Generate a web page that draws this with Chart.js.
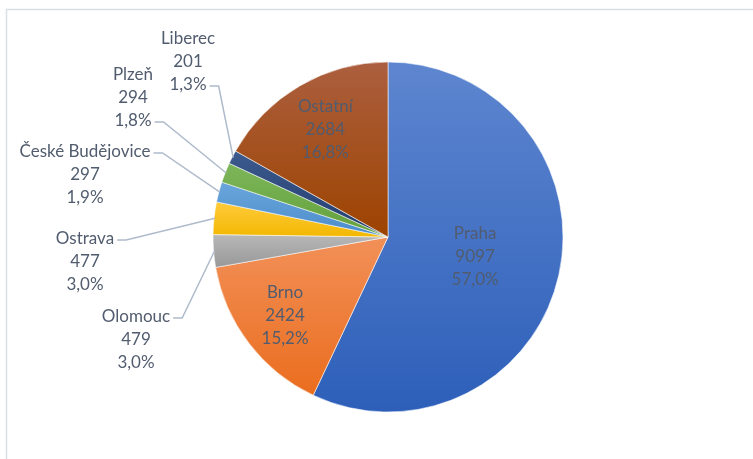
<!DOCTYPE html>
<html>
<head>
<meta charset="utf-8">
<script src="https://cdn.jsdelivr.net/npm/chart.js@4/dist/chart.umd.min.js"></script>
<style>
  html, body { margin: 0; padding: 0; background: #fff; }
  #wrap { width: 753px; height: 459px; position: relative; }
</style>
</head>
<body>
<div id="wrap"><canvas id="cities-chart"></canvas></div>
<script>
// city counts, clockwise from 12 o'clock
var cities = ["Praha", "Brno", "Olomouc", "Ostrava", "České Budějovice", "Plzeň", "Liberec", "Ostatní"];
var counts = [9097, 2424, 479, 477, 297, 294, 201, 2684];

// gradient stops per slice (top -> bottom)
var topColors = ["#5E86D0", "#F29058", "#B8B8B8", "#FFCB3C", "#6AA6DC", "#7DB65A", "#3D5A8E", "#AC5F3F"];
var bottomColors = ["#2D5FB9", "#EA6D1E", "#979797", "#F2B700", "#4A8BCB", "#62A03A", "#223D6E", "#9D4300"];

// where each label goes: inside at a fraction of the radius, or outside with a leader line
var labelSpots = [
    { inside: 0.51 },
    { inside: 0.74 },
    { x: 136, y: 340, attach: 0 },
    { x: 85, y: 262, attach: 0 },
    { x: 85, y: 175, attach: 0 },
    { x: 133, y: 98, attach: 2 },
    { x: 188, y: 62, attach: 2 },
    { inside: 0.71 }
];

var total = counts.reduce((a, b) => a + b, 0);
var pct = n => (n / total * 100).toFixed(1).replace(".", ",") + "%";
var labelFont = "17px Lato, 'Open Sans', sans-serif";
var labelColor = "#515C6E";
var lineHeight = 23;

// vertical gradient spanning the bounding box of one slice
var sliceFill = function (context) {
    var chart = context.chart;
    var area = chart.chartArea;
    if (!area) return topColors[context.dataIndex];
    var i = context.dataIndex;
    var cy = (area.top + area.bottom) / 2;
    var r = 175;
    var before = counts.slice(0, i).reduce((a, b) => a + b, 0);
    var a0 = -Math.PI / 2 + before / total * Math.PI * 2;
    var a1 = a0 + counts[i] / total * Math.PI * 2;
    var ys = [cy, cy + r * Math.sin(a0), cy + r * Math.sin(a1)];
    for (var k = -2; k <= 4; k++) {
        var a = k * Math.PI / 2 + Math.PI / 2;
        if (a > a0 && a < a1) ys.push(cy + r * Math.sin(a));
    }
    var y0 = Math.min.apply(null, ys), y1 = Math.max.apply(null, ys);
    var g = chart.ctx.createLinearGradient(0, y0, 0, y1 + 1);
    g.addColorStop(0, topColors[i]);
    g.addColorStop(1, bottomColors[i]);
    return g;
};

var sliceLabels = {
    id: "sliceLabels",
    beforeDraw(chart) {
        var ctx = chart.ctx;
        ctx.save();
        ctx.strokeStyle = "#DADFE6";
        ctx.lineWidth = 1.5;
        ctx.beginPath();
        ctx.moveTo(6.5, chart.height);
        ctx.lineTo(6.5, 9.5);
        ctx.lineTo(chart.width, 9.5);
        ctx.stroke();
        ctx.restore();
    },
    afterDatasetsDraw(chart) {
        var ctx = chart.ctx;
        var meta = chart.getDatasetMeta(0);
        ctx.save();
        ctx.font = labelFont;
        ctx.fillStyle = labelColor;
        ctx.textAlign = "center";
        ctx.textBaseline = "middle";
        meta.data.forEach((arc, i) => {
            var p = arc.getProps(["x", "y", "startAngle", "endAngle", "outerRadius"], true);
            var mid = (p.startAngle + p.endAngle) / 2;
            var lines = [cities[i], String(counts[i]), pct(counts[i])];
            var spot = labelSpots[i];
            var cx, cy;
            if (spot.inside) {
                cx = p.x + Math.cos(mid) * p.outerRadius * spot.inside;
                cy = p.y + Math.sin(mid) * p.outerRadius * spot.inside;
            } else {
                cx = spot.x;
                cy = spot.y;
                var ly = cy + (spot.attach - 1) * lineHeight + 1;
                var sx = cx + ctx.measureText(lines[spot.attach]).width / 2 + 3;
                ctx.strokeStyle = "#AFBBCB";
                ctx.lineWidth = 1.5;
                ctx.beginPath();
                ctx.moveTo(sx, ly);
                ctx.lineTo(sx + 9, ly);
                ctx.lineTo(p.x + Math.cos(mid) * (p.outerRadius - 1), p.y + Math.sin(mid) * (p.outerRadius - 1));
                ctx.stroke();
            }
            lines.forEach((t, k) => ctx.fillText(t, cx, cy + (k - 1) * lineHeight));
        });
        ctx.restore();
    }
};

var chart = new Chart(document.getElementById("cities-chart"), {
    type: "pie",
    data: {
        labels: cities,
        datasets: [{
            data: counts,
            backgroundColor: sliceFill,
            borderColor: "rgba(255,255,255,0.55)",
            borderWidth: 1
        }]
    },
    options: {
        responsive: true,
        maintainAspectRatio: false,
        animation: false,
        radius: 175,
        layout: { padding: { left: 213, right: 190, top: 62, bottom: 47 } },
        plugins: {
            legend: { display: false },
            tooltip: { enabled: false }
        }
    },
    plugins: [sliceLabels]
});
</script>
</body>
</html>
